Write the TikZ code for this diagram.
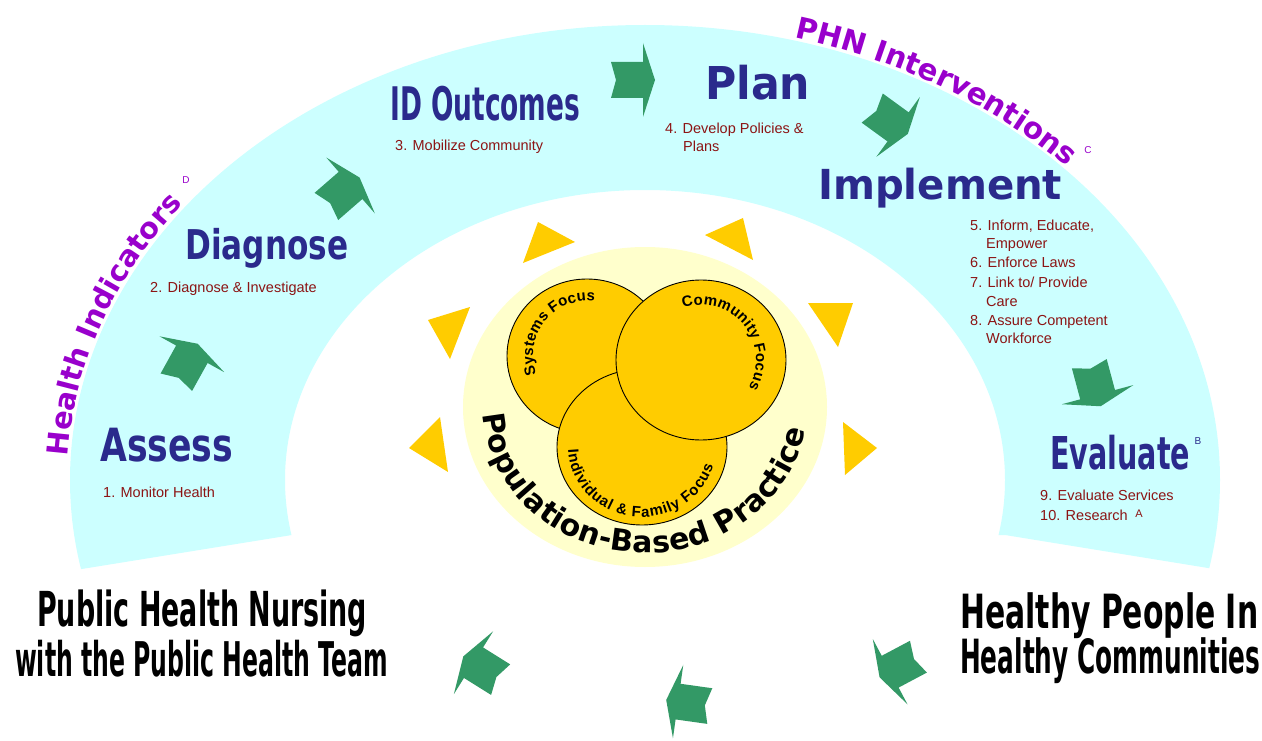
\documentclass[tikz,border=0pt]{standalone}
\usepackage{fontspec}
\usepackage{graphicx}
\setmainfont{Liberation Sans}
\newfontfamily\heavyfont{DejaVu Sans}
\newfontfamily\circfam{Liberation Sans}
\newcommand\hifont{\heavyfont\bfseries\fontsize{29}{29}\selectfont}
\newcommand\phnf{\heavyfont\bfseries\fontsize{29.5}{29.5}\selectfont}
\newcommand\popf{\heavyfont\bfseries\fontsize{30}{30}\selectfont}
\newcommand\circf{\circfam\bfseries\fontsize{15}{15}\selectfont}
\newcommand\circg{\circfam\bfseries\fontsize{15}{15}\selectfont}
\usetikzlibrary{shapes.geometric}
\definecolor{bandcyan}{RGB}{204,255,255}
\definecolor{paleyel}{RGB}{255,255,204}
\definecolor{gold}{RGB}{255,204,0}
\definecolor{arrowgreen}{RGB}{51,153,102}
\definecolor{navy}{RGB}{42,42,140}
\definecolor{darkred}{RGB}{140,20,20}
\definecolor{purp}{RGB}{153,0,204}
\newdimen\arccharw
\newbox\arccharbox
\def\arcspace{0}
% #1 font, #2 colour, #3 cx, #4 cy, #5 a, #6 b, #7 start angle, #8 direction (+1/-1), #9 characters
\newcommand\arcchars[9]{%
  \xdef\arccur{#7}%
  \foreach \tch in {#9} {%
    \pgfinterruptpicture
      \global\setbox\arccharbox=\hbox{#1\tch}%
    \endpgfinterruptpicture
    \global\arccharw=\wd\arccharbox
    \pgfmathsetmacro\tw{\the\arccharw + \arcspace}%
    \pgfmathsetmacro\tsp{100*sqrt((#5/100*sin(\arccur))^2+(#6/100*cos(\arccur))^2)}%
    \pgfmathsetmacro\tmid{\arccur + (#8)*(\tw/2)/\tsp*180/pi}%
    \pgfmathsetmacro\tspm{100*sqrt((#5/100*sin(\tmid))^2+(#6/100*cos(\tmid))^2)}%
    \pgfmathsetmacro\tphi{atan2(-(#8)*#6*cos(\tmid), -(#8)*#5*sin(\tmid))}%
    \pgfmathsetmacro\tpx{#3+#5*cos(\tmid)}%
    \pgfmathsetmacro\tpy{#4+#6*sin(\tmid)}%
    \node[inner sep=0pt, anchor=base, rotate=\tphi, text=#2, font=#1] at (\tpx,\tpy) {\tch};
    \pgfmathsetmacro\tnew{\tmid + (#8)*(\tw/2)/\tspm*180/pi}%
    \global\let\arccur\tnew
  }%
}
\begin{document}
\begin{tikzpicture}[x=1pt,y=-1pt,
  stage/.style={inner sep=0pt, anchor=north west, text=navy, font=\heavyfont\bfseries},
  item/.style={inner sep=0pt, anchor=base west, text=darkred, font=\fontsize{14.5}{17}\selectfont},
  bigtext/.style={inner sep=0pt, anchor=north west, text=black, font=\heavyfont\bfseries},
  supmark/.style={inner sep=0pt, font=\fontsize{10}{10}\selectfont},
  circ/.style={ellipse, draw=black, fill=gold, line width=0.9pt, inner sep=0pt},
  ray/.style={fill=gold},
  greenarrow/.pic={\fill[arrowgreen] (-22,-18) -- (10,-18) -- (10,-37) -- (22,0) -- (10,37) -- (10,18) -- (-22,18) -- (-17,0) -- cycle;}
]
\useasboundingbox (0,0) rectangle (1262,741);
\fill[white] (0,0) rectangle (1262,741);

% band
\begin{scope}
\clip (0,0) -- (1262,0) -- (1262,577) -- (1208,568) -- (1005,535) -- (292,535) -- (88,568) -- (0,582) -- cycle;
\fill[bandcyan,even odd rule] (645,480) ellipse[x radius=575,y radius=455] (645,480) ellipse[x radius=360,y radius=290];
\end{scope}

% pale disc
\fill[paleyel] (645,407) ellipse[x radius=182,y radius=160];

% sun rays
\fill[ray] (538,222) -- (575,242) -- (523,263) -- cycle;
\fill[ray] (743,218) -- (753,260) -- (705,235) -- cycle;
\fill[ray] (428,320) -- (470,307) -- (450,359) -- cycle;
\fill[ray] (808,303) -- (853,303) -- (838,347) -- cycle;
\fill[ray] (440,417) -- (409,448) -- (448,472) -- cycle;
\fill[ray] (843,422) -- (877,448) -- (845,475) -- cycle;

% circles
\node[circ, minimum width=160pt, minimum height=154pt] (sys) at (587,356) {};
\node[circ, minimum width=170pt, minimum height=156pt] (indiv) at (642,447) {};
\node[circ, minimum width=170pt, minimum height=160pt] (comm) at (701,360) {};

\def\arcspace{0.2}
\arcchars{\circf}{black}{587}{356}{54}{55}{160}{1}{S,y,s,t,e,m,s,\ ,F,o,c,u,s}
\arcchars{\circf}{black}{701}{360}{55}{55}{251}{1}{C,o,m,m,u,n,i,t,y,\ ,F,o,c,u,s}
\def\arcspace{0.8}
\arcchars{\circg}{black}{642}{447}{74}{70}{178}{-1}{I,n,d,i,v,i,d,u,a,l,\ ,\&,\ ,F,a,m,i,l,y,\ ,F,o,c,u,s}
\def\arcspace{0.3}
\arcchars{\popf}{black}{645}{407}{162}{146}{177}{-1}{P,o,p,u,l,a,t,i,o,n,-,B,a,s,e,d,\ ,P,r,a,c,t,i,c,e}

% arc labels
\def\arcspace{0}
\arcchars{\hifont}{purp}{645}{480}{578}{458}{183}{1}{H,e,a,l,t,h,\ ,I,n,d,i,c,a,t,o,r,s}
\arcchars{\phnf}{purp}{645}{480}{578}{458}{285}{1}{P,H,N,\ ,I,n,t,e,r,v,e,n,t,i,o,n,s}
\node[supmark, text=purp] (supD) at (186,180) {D};
\node[supmark, text=purp] (supC) at (1088,150) {C};

% green arrows
\pic[rotate=61] at (187,363) {greenarrow};
\pic[rotate=41] at (343,192) {greenarrow};
\pic[rotate=0] at (633,80) {greenarrow};
\pic[rotate=-36] at (890,121) {greenarrow};
\pic[rotate=-75] at (1095,385) {greenarrow};
\pic[rotate=208] at (899,667) {greenarrow};
\pic[rotate=172] at (688,703) {greenarrow};
\pic[rotate=148] at (482,668) {greenarrow};

% stage labels
\node[stage] (assess) at (100,428) {\resizebox*{133pt}{34pt}{Assess}};
\node[stage] (diagnose) at (185,228) {\resizebox*{163pt}{40pt}{Diagnose}};
\node[stage] (idout) at (390,86) {\resizebox*{190pt}{35pt}{ID Outcomes}};
\node[stage] (plan) at (705,65) {\resizebox*{105pt}{35pt}{Plan}};
\node[stage] (implement) at (818,168) {\resizebox*{244pt}{40pt}{Implement}};
\node[stage] (evaluate) at (1050,435) {\resizebox*{140pt}{35pt}{Evaluate}};
\node[supmark, text=navy] (supB) at (1198,441) {B};

% items
\node[item] (i1) at (103,497) {1. Monitor Health};
\node[item] (i2) at (150,292) {2. Diagnose \& Investigate};
\node[item] (i3) at (395,151) {3. Mobilize Community};
\node[item] (i4) at (665,134) {4. Develop Policies \&};
\node[item] (i4b) at (683,152) {Plans};
\node[item] (i5) at (970,230) {5. Inform, Educate,};
\node[item] (i5b) at (986,248) {Empower};
\node[item] (i6) at (970,267) {6. Enforce Laws};
\node[item] (i7) at (970,287) {7. Link to/ Provide};
\node[item] (i7b) at (986,306) {Care};
\node[item] (i8) at (970,325) {8. Assure Competent};
\node[item] (i8b) at (986,343) {Workforce};
\node[item] (i9) at (1040,500) {9. Evaluate Services};
\node[item] (i10) at (1040,520) {10. Research};
\node[supmark, text=darkred, font=\fontsize{11}{11}\selectfont] (supA) at (1139,514) {A};

% bottom texts
\node[bigtext] (phn1) at (37,590) {\resizebox*{330pt}{47pt}{Public Health Nursing}};
\node[bigtext] (phn2) at (15,640) {\resizebox*{373pt}{37pt}{with the Public Health Team}};
\node[bigtext] (hp1) at (960,592) {\resizebox*{298pt}{46pt}{Healthy People In}};
\node[bigtext] (hp2) at (960,637) {\resizebox*{300pt}{46pt}{Healthy Communities}};
\end{tikzpicture}
\end{document}
